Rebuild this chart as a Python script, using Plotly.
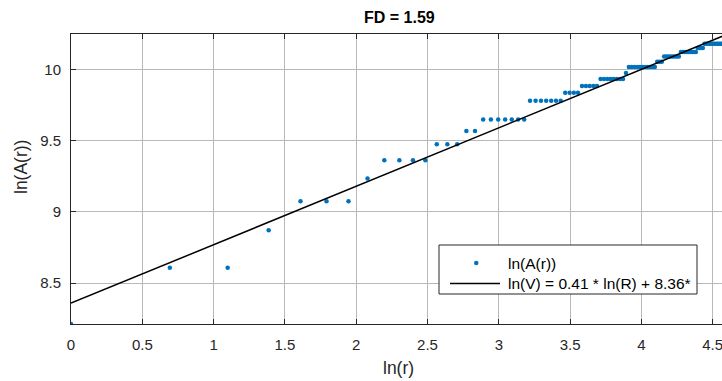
import numpy as np
import plotly.graph_objects as go

# radius values r and measured ln(A(r))
r_values = list(range(1, 101))
lnA_values = [
    8.214,                                  # r=1
    8.609, 8.609,                           # 2-3
    8.871,                                  # 4
    9.075, 9.075, 9.075,                    # 5-7
    9.234,                                  # 8
    9.363, 9.363, 9.363, 9.363,             # 9-12
    9.475, 9.475, 9.475,                    # 13-15
    9.567, 9.567,                           # 16-17
    9.648, 9.648, 9.648, 9.648, 9.648, 9.648, 9.648,   # 18-24
    9.779, 9.779, 9.779, 9.779, 9.779, 9.779, 9.779,   # 25-31
    9.836, 9.836, 9.836, 9.836,             # 32-35
    9.883, 9.883, 9.883, 9.883, 9.883,      # 36-40
    9.932, 9.932, 9.932, 9.932, 9.932, 9.932, 9.932, 9.932,  # 41-48
    9.974,                                  # 49
    10.016, 10.016, 10.016, 10.016, 10.016, 10.016, 10.016, 10.016, 10.016, 10.016, 10.016,  # 50-60
    10.054, 10.054, 10.054,                 # 61-63
    10.090, 10.090, 10.090, 10.090, 10.090, 10.090, 10.090, 10.090,  # 64-71
    10.122, 10.122, 10.122, 10.122, 10.122, 10.122, 10.122, 10.122, 10.122,  # 72-80
    10.150, 10.150, 10.150, 10.150,         # 81-84
    10.180, 10.180, 10.180, 10.180, 10.180, 10.180, 10.180, 10.180,
    10.180, 10.180, 10.180, 10.180, 10.180, 10.180, 10.180, 10.180,  # 85-100
]

fit_slope = 0.41
fit_intercept = 8.36
fd_value = 1.59

x_tick_vals = [0, 0.5, 1, 1.5, 2, 2.5, 3, 3.5, 4, 4.5]
x_tick_text = ["0", "0.5", "1", "1.5", "2", "2.5", "3", "3.5", "4", "4.5"]
y_tick_vals = [8.5, 9, 9.5, 10]
y_tick_text = ["8.5", "9", "9.5", "10"]

series_name = "ln(A(r))"
fit_name = f"ln(V) = {fit_slope:.2f} * ln(R) + {fit_intercept:.2f}*"

ln_r = np.log(np.array(r_values, dtype=float))
fit_x = np.array([ln_r[0], ln_r[-1]])
fit_y = fit_slope * fit_x + fit_intercept

FONT = "Liberation Sans, Arial, Helvetica, sans-serif"
AXC = "#262626"
GRID = "#b8b8b8"
BLUE = "#0072BD"

W, H = 722, 381
PL, PT, PR, PB = 71, 34, 722, 324          # plot box on the page
plot_w = PR - PL
plot_h = PB - PT


def px(xp):
    return (xp - PL) / plot_w


def py(yp):
    return (PB - yp) / plot_h


fig = go.Figure()
fig.add_trace(go.Scatter(
    x=ln_r, y=lnA_values, mode="markers", name=series_name,
    marker=dict(color=BLUE, size=4.5, line=dict(width=0)),
))
fig.add_trace(go.Scatter(
    x=fit_x, y=fit_y, mode="lines", name=fit_name,
    line=dict(color="black", width=1.5),
))

# legend box drawn by hand (MATLAB-style layout)
LG_L, LG_T, LG_R, LG_B = 439, 245, 697, 294
shapes = [
    dict(type="rect", xref="paper", yref="paper", layer="above",
         x0=px(LG_L), x1=px(LG_R), y0=py(LG_B), y1=py(LG_T),
         line=dict(color=AXC, width=1), fillcolor="white"),
    dict(type="circle", xref="paper", yref="paper", layer="above",
         x0=px(474), x1=px(478.5), y0=py(265.3), y1=py(260.8),
         line=dict(width=0), fillcolor=BLUE),
    dict(type="line", xref="paper", yref="paper", layer="above",
         x0=px(450), x1=px(500), y0=py(283.5), y1=py(283.5),
         line=dict(color="black", width=1.5)),
]

fig.update_layout(
    width=W, height=H,
    margin=dict(l=PL, r=W - PR, t=PT, b=H - PB, pad=0),
    paper_bgcolor="white", plot_bgcolor="white",
    font=dict(family=FONT, size=15, color=AXC),
    showlegend=False,
    xaxis=dict(
        range=[0, plot_w / 142.6], automargin=False,
        tickvals=x_tick_vals, ticktext=x_tick_text,
        ticklabeloverflow="allow",
        showgrid=True, gridcolor=GRID, gridwidth=1,
        zeroline=False,
        showline=True, linecolor=AXC, linewidth=1, mirror="ticks",
        ticks="inside", ticklen=5, tickcolor=AXC, tickwidth=1,
        ticklabelstandoff=7,
        tickfont=dict(family=FONT, size=15, color=AXC),
    ),
    yaxis=dict(
        range=[8.214, 10.248], automargin=False,
        tickvals=y_tick_vals, ticktext=y_tick_text,
        showgrid=True, gridcolor=GRID, gridwidth=1,
        zeroline=False,
        showline=True, linecolor=AXC, linewidth=1, mirror=False,
        ticks="inside", ticklen=5, tickcolor=AXC, tickwidth=1,
        ticklabelstandoff=6,
        tickfont=dict(family=FONT, size=15, color=AXC),
    ),
    shapes=shapes,
    annotations=[
        dict(text=f"<b>FD = {fd_value:.2f}</b>", xref="paper", yref="paper",
             x=px(399), y=py(17),
             xanchor="center", yanchor="middle", showarrow=False,
             font=dict(family=FONT, size=16, color="black")),
        dict(text="ln(r)", xref="paper", yref="paper",
             x=px(398), y=py(368),
             xanchor="center", yanchor="middle", showarrow=False,
             font=dict(family=FONT, size=17.5, color=AXC)),
        dict(text="ln(A(r))", xref="paper", yref="paper", textangle=-90,
             x=px(21), y=py(167),
             xanchor="center", yanchor="middle", showarrow=False,
             font=dict(family=FONT, size=17.5, color=AXC)),
        dict(text=series_name, xref="paper", yref="paper",
             x=px(506), y=py(263),
             xanchor="left", yanchor="middle", showarrow=False,
             font=dict(family=FONT, size=15.5, color="black")),
        dict(text=fit_name, xref="paper", yref="paper",
             x=px(506), y=py(283.5),
             xanchor="left", yanchor="middle", showarrow=False,
             font=dict(family=FONT, size=15.5, color="black")),
    ],
)

# remove the browser's default 8px body margin so the figure fills the window exactly
fig.write_html(
    "out.html",
    config={"displayModeBar": False},
    post_script="document.body.style.margin='0';document.body.style.overflow='hidden';",
)
